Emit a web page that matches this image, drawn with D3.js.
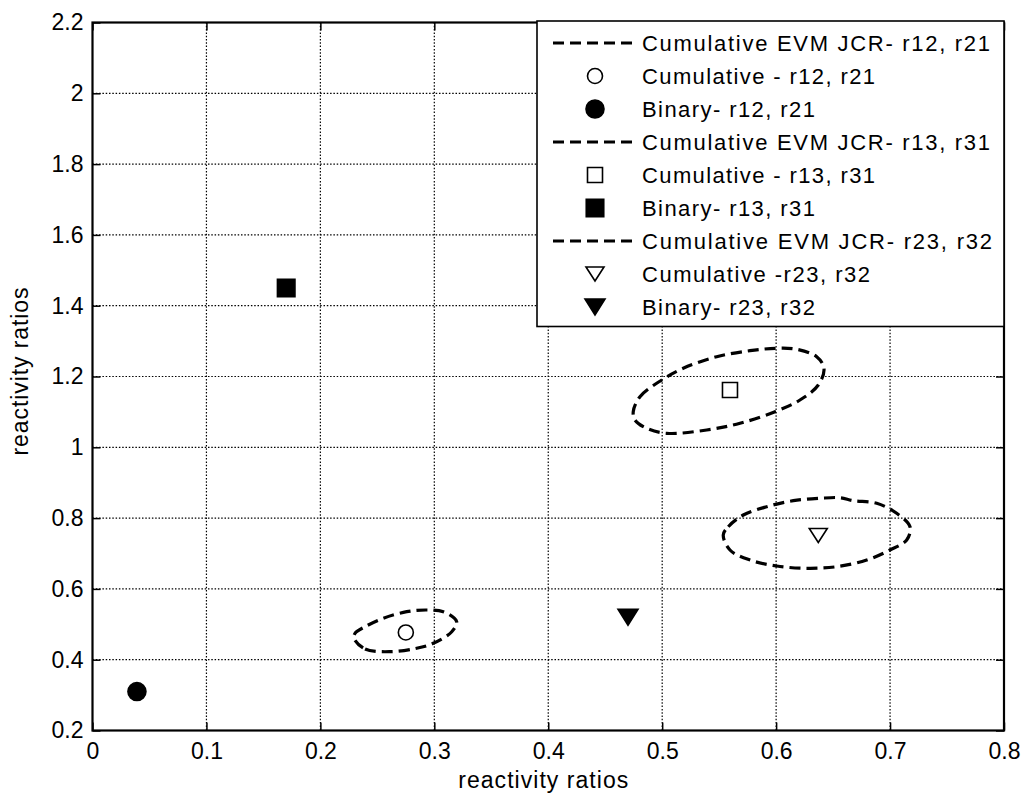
<!DOCTYPE html>
<html>
<head>
<meta charset="utf-8">
<script src="https://cdn.jsdelivr.net/npm/d3@7"></script>
<style>
  html, body { margin: 0; padding: 0; background: #fff; }
  svg { display: block; }
  text { font-family: "Liberation Sans", Arial, sans-serif; fill: #000; }
</style>
</head>
<body>
<svg id="chart" width="1024" height="795"></svg>
<script>
// ---- data ----
const xTicks = [0, 0.1, 0.2, 0.3, 0.4, 0.5, 0.6, 0.7, 0.8];
const yTicks = [0.2, 0.4, 0.6, 0.8, 1, 1.2, 1.4, 1.6, 1.8, 2, 2.2];
const xLabel = "reactivity ratios";
const yLabel = "reactivity ratios";

// point estimates (r12/r21, r13/r31, r23/r32)
const cumulativeX = [0.275, 0.5595, 0.637];
const cumulativeY = [0.477, 1.162, 0.751];
const binaryX = [0.039, 0.17, 0.47];
const binaryY = [0.31, 1.45, 0.52];

// joint confidence regions (EVM), outline points
const jcr12X = [0.2295, 0.2392, 0.2611, 0.2845, 0.2991, 0.3153, 0.3196, 0.3079, 0.2933, 0.2758, 0.2552, 0.2392, 0.2304];
const jcr12Y = [0.4605, 0.4302, 0.4226, 0.4322, 0.4463, 0.4791, 0.5073, 0.5356, 0.5404, 0.5356, 0.5169, 0.4932, 0.4746];
const jcr13X = [0.4746, 0.4805, 0.4996, 0.5185, 0.5478, 0.5771, 0.6005, 0.6180, 0.6356, 0.6420, 0.6370, 0.6209, 0.5990, 0.5683, 0.5391, 0.5040, 0.4864, 0.4761];
const jcr13Y = [1.1006, 1.1429, 1.1901, 1.2232, 1.2559, 1.2729, 1.2797, 1.2768, 1.2559, 1.2232, 1.1760, 1.1336, 1.1006, 1.0678, 1.0489, 1.0395, 1.0537, 1.0771];
const jcr23X = [0.5536, 0.5580, 0.5712, 0.5917, 0.6151, 0.6385, 0.6560, 0.6677, 0.6883, 0.7058, 0.7175, 0.7146, 0.6999, 0.6795, 0.6531, 0.6268, 0.6005, 0.5771, 0.5595];
const jcr23Y = [0.7523, 0.7757, 0.8088, 0.8322, 0.8492, 0.8559, 0.8576, 0.8492, 0.8418, 0.8136, 0.7757, 0.7381, 0.7099, 0.6816, 0.6627, 0.6582, 0.6647, 0.6816, 0.7099];

const legendLabels = [
  "Cumulative EVM JCR- r12, r21",
  "Cumulative - r12, r21",
  "Binary- r12, r21",
  "Cumulative EVM JCR- r13, r31",
  "Cumulative - r13, r31",
  "Binary- r13, r31",
  "Cumulative EVM JCR- r23, r32",
  "Cumulative -r23, r32",
  "Binary- r23, r32"
];
const legendKinds = ["line", "circleOpen", "circleFilled", "line", "squareOpen", "squareFilled", "line", "triOpen", "triFilled"];
const legendTextWidths = [348, 233, 173, 348, 233, 173, 350, 228, 173];

// ---- layout ----
const svg = d3.select("#chart");
const m = { left: 92.5, right: 1004, top: 22.5, bottom: 730.5 };
const x = d3.scaleLinear().domain([0, 0.8]).range([m.left, m.right]);
const y = d3.scaleLinear().domain([0.2, 2.2]).range([m.bottom, m.top]);

// grid
const grid = svg.append("g").attr("stroke", "#000").attr("stroke-width", 1.2).attr("stroke-dasharray", "1.5,1.8");
grid.selectAll("line.gx").data(xTicks.slice(1, -1)).join("line")
  .attr("x1", d => x(d)).attr("x2", d => x(d)).attr("y1", m.top).attr("y2", m.bottom);
grid.selectAll("line.gy").data(yTicks.slice(1, -1)).join("line")
  .attr("y1", d => y(d)).attr("y2", d => y(d)).attr("x1", m.left).attr("x2", m.right);

// axes
const fmt = d => String(d);
const xAxisB = d3.axisBottom(x).tickValues(xTicks).tickFormat(fmt).tickSizeInner(-8).tickSizeOuter(0).tickPadding(12);
const xAxisT = d3.axisTop(x).tickValues(xTicks).tickFormat("").tickSizeInner(-8).tickSizeOuter(0);
const yAxisL = d3.axisLeft(y).tickValues(yTicks).tickFormat(fmt).tickSizeInner(-8).tickSizeOuter(0).tickPadding(9);
const yAxisR = d3.axisRight(y).tickValues(yTicks).tickFormat("").tickSizeInner(-8).tickSizeOuter(0);

function styleAxis(g) {
  g.select(".domain").remove();
  g.selectAll(".tick line").attr("stroke", "#000").attr("stroke-width", 1.5);
  g.selectAll(".tick text").style("font-family", "'Liberation Sans', Arial, sans-serif").style("font-size", "23px").attr("fill", "#000");
}
svg.append("g").attr("transform", `translate(0,${m.bottom})`).call(xAxisB).call(styleAxis);
svg.append("g").attr("transform", `translate(0,${m.top})`).call(xAxisT).call(styleAxis);
svg.append("g").attr("transform", `translate(${m.left},0)`).call(yAxisL).call(styleAxis);
svg.append("g").attr("transform", `translate(${m.right},0)`).call(yAxisR).call(styleAxis);

// frame
svg.append("rect").attr("x", m.left).attr("y", m.top)
  .attr("width", m.right - m.left).attr("height", m.bottom - m.top)
  .attr("fill", "none").attr("stroke", "#000").attr("stroke-width", 2.2);

// axis labels
svg.append("text").attr("x", (m.left + m.right) / 2 - 5).attr("y", 788)
  .attr("text-anchor", "middle").style("font-size", "23px")
  .attr("textLength", 170).attr("lengthAdjust", "spacing").text(xLabel);
svg.append("text").attr("transform", `translate(28,${(m.top + m.bottom) / 2 - 5}) rotate(-90)`)
  .attr("text-anchor", "middle").style("font-size", "23px")
  .attr("textLength", 168).attr("lengthAdjust", "spacing").text(yLabel);

// confidence regions
const ellipseLine = d3.line().x(d => x(d[0])).y(d => y(d[1])).curve(d3.curveCatmullRomClosed.alpha(0.5));
const regions = [[jcr12X, jcr12Y], [jcr13X, jcr13Y], [jcr23X, jcr23Y]];
svg.append("g").selectAll("path").data(regions).join("path")
  .attr("d", r => ellipseLine(d3.zip(r[0], r[1])))
  .attr("fill", "none").attr("stroke", "#000").attr("stroke-width", 3.2)
  .attr("stroke-dasharray", "11,6");

// marker shapes
const sym = {
  circleOpen:   { type: d3.symbolCircle,   size: Math.PI * 7.5 * 7.5, fill: "#fff" },
  circleFilled: { type: d3.symbolCircle,   size: Math.PI * 9 * 9,     fill: "#000" },
  squareOpen:   { type: d3.symbolSquare,   size: 15 * 15,             fill: "#fff" },
  squareFilled: { type: d3.symbolSquare,   size: 17.5 * 17.5,         fill: "#000" }
};
function drawMarker(g, kind, cx, cy) {
  if (kind === "triOpen" || kind === "triFilled") {
    const w = kind === "triOpen" ? 18 : 20, h = kind === "triOpen" ? 14 : 16;
    g.append("path")
      .attr("d", `M${cx - w / 2},${cy - h / 2}L${cx + w / 2},${cy - h / 2}L${cx},${cy + h / 2}Z`)
      .attr("fill", kind === "triOpen" ? "#fff" : "#000")
      .attr("stroke", "#000").attr("stroke-width", 1.6).attr("stroke-linejoin", "miter");
    return;
  }
  const s = sym[kind];
  g.append("path").attr("d", d3.symbol().type(s.type).size(s.size)())
    .attr("transform", `translate(${cx},${cy})`)
    .attr("fill", s.fill).attr("stroke", "#000").attr("stroke-width", 1.6);
}
const pts = svg.append("g");
const cumKinds = ["circleOpen", "squareOpen", "triOpen"];
const binKinds = ["circleFilled", "squareFilled", "triFilled"];
cumulativeX.forEach((v, i) => drawMarker(pts, cumKinds[i], x(v), y(cumulativeY[i])));
binaryX.forEach((v, i) => drawMarker(pts, binKinds[i], x(v), y(binaryY[i])));

// legend
const lg = svg.append("g");
lg.append("rect").attr("x", 537).attr("y", 21).attr("width", 1004 - 537).attr("height", 326.5 - 21)
  .attr("fill", "#fff").attr("stroke", "#000").attr("stroke-width", 1.6);
legendLabels.forEach((lab, i) => {
  const cy = 43 + i * 33;
  const kind = legendKinds[i];
  if (kind === "line") {
    lg.append("line").attr("x1", 553).attr("x2", 632).attr("y1", cy).attr("y2", cy)
      .attr("stroke", "#000").attr("stroke-width", 3.2).attr("stroke-dasharray", "11,6");
  } else {
    drawMarker(lg, kind, 595, cy);
  }
  lg.append("text").attr("x", 642).attr("y", cy + 8).style("font-size", "22px")
    .attr("textLength", legendTextWidths[i]).attr("lengthAdjust", "spacing").text(lab);
});
</script>
</body>
</html>
